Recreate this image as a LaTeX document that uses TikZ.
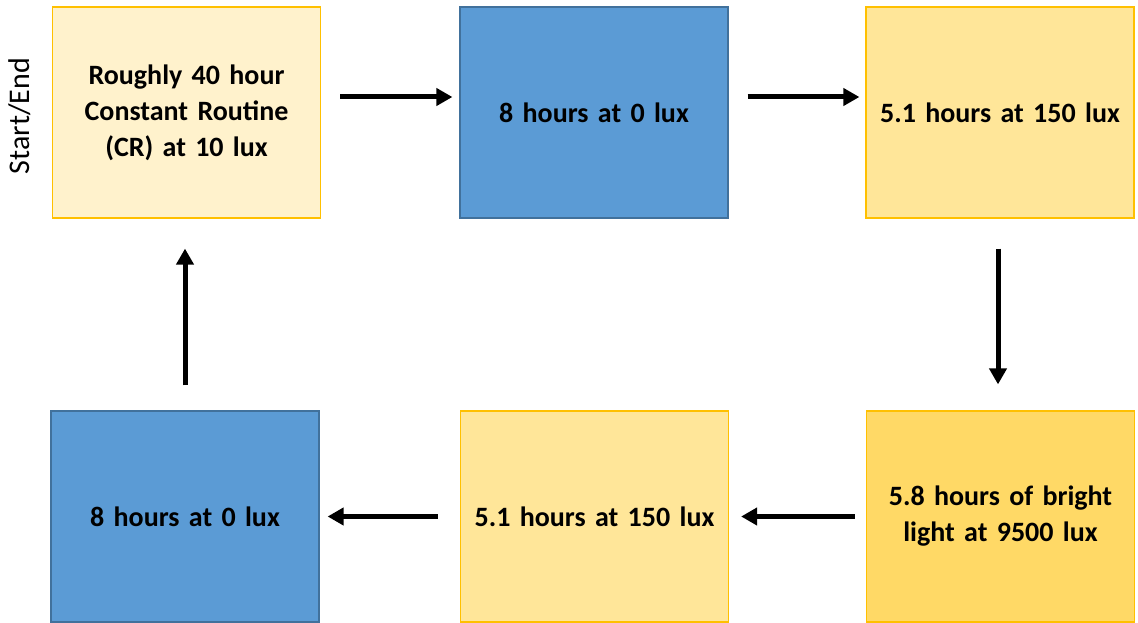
\documentclass[tikz,border=0pt]{standalone}
\usepackage{fontspec}
\setmainfont{Carlito}
\usetikzlibrary{arrows.meta}
\definecolor{cream}{HTML}{FFF2CC}
\definecolor{gold}{HTML}{FFC000}
\definecolor{bluefill}{HTML}{5B9BD5}
\definecolor{blueline}{HTML}{41719C}
\definecolor{paleyel}{HTML}{FFE699}
\definecolor{brightyel}{HTML}{FFD966}
\tikzset{
  box/.style={draw, line width=1.2pt, minimum width=268pt, minimum height=211pt, inner sep=0pt,
    font=\fontsize{28}{36}\selectfont\bfseries, align=center, text width=260pt},
  creambox/.style={box, fill=cream, draw=gold},
  bluebox/.style={box, fill=bluefill, draw=blueline},
  yelbox/.style={box, fill=paleyel, draw=gold},
  brightbox/.style={box, fill=brightyel, draw=gold},
  flow/.style={line width=5pt, -{Triangle[width=17pt,length=16pt]}}
}
\begin{document}
\begin{tikzpicture}[x=1pt,y=-1pt]
\useasboundingbox (0,0) rectangle (1138,623);
\node[creambox] (cr) at (186.5,112.5) {Roughly 40 hour\\Constant Routine\\(CR) at 10 lux};
\node[bluebox] (d1) at (594,112.5) {8 hours at 0 lux};
\node[yelbox] (m1) at (1000,112.5) {5.1 hours at 150 lux};
\node[brightbox] (b) at (1000.5,516.5) {5.8 hours of bright\\light at 9500 lux};
\node[yelbox] (m2) at (594.5,516.5) {5.1 hours at 150 lux};
\node[bluebox] (d2) at (185,516.5) {8 hours at 0 lux};
\node[rotate=90, font=\fontsize{30}{36}\selectfont] (se) at (20,116) {Start/End};
\draw[flow] ([shift={(19,-15.5)}]cr.east) -- ([shift={(-7,-15.5)}]d1.west);
\draw[flow] ([shift={(19,-15.5)}]d1.east) -- ([shift={(-6,-15.5)}]m1.west);
\draw[flow] ([shift={(-2,30)}]m1.south) -- ([shift={(-2.5,-26)}]b.north);
\draw[flow] ([xshift=-11pt]b.west) -- ([xshift=12pt]m2.east);
\draw[flow] ([xshift=-22pt]m2.west) -- ([xshift=8pt]d2.east);
\draw[flow] ([yshift=25pt]d2.north) -- ([shift={(-1.5,30)}]cr.south);
\end{tikzpicture}
\end{document}
